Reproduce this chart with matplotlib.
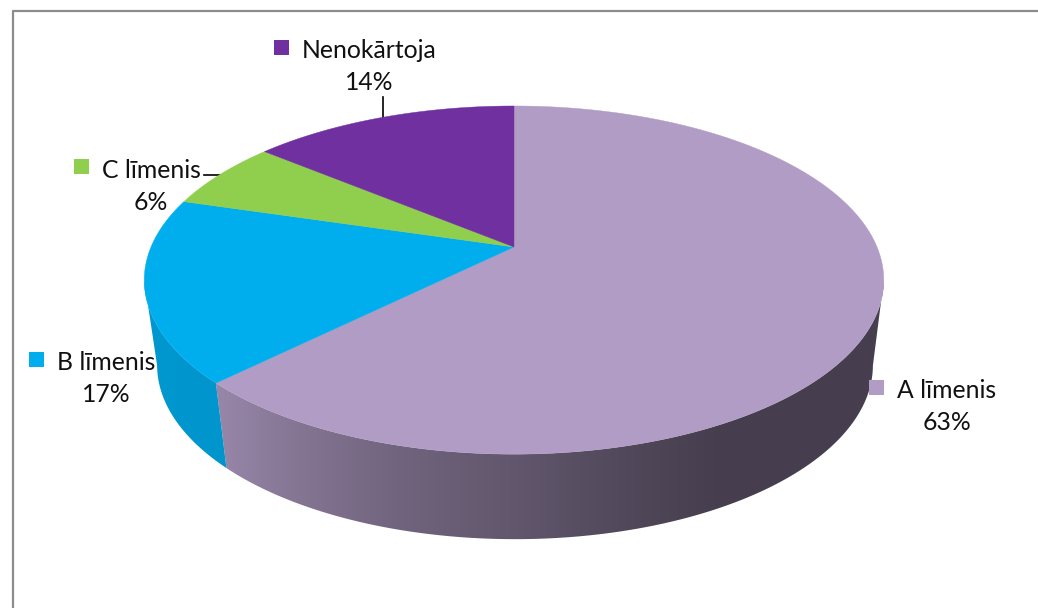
import numpy as np
import matplotlib
matplotlib.use("Agg")
import matplotlib.pyplot as plt
from matplotlib.colors import to_rgb
from matplotlib.patches import Polygon, Rectangle

plt.rcParams['font.family'] = ['Lato', 'DejaVu Sans']

labels = ["A līmenis", "B līmenis", "C līmenis", "Nenokārtoja"]
values = [62.6, 17.0, 6.4, 14.0]
colors = ["#B09CC4", "#00AEEE", "#90CE4E", "#7030A0"]

# legend marker top-left corner, label centre and percent centre for each slice
marker_xy = [(869, 380), (29, 352), (74, 159), (274, 40)]
label_xy = [(947, 391), (106, 363), (151, 170), (369, 51)]

# perspective of the pie, found by measuring the top ellipse
apex_x, apex_y = 514, 247
persp = 0.19
scale_x, scale_y = 363, 167.8
depth = 85
shrink = 0.968

# darkening of the side wall along x
shade_x = [140, 218, 300, 400, 520, 640, 720, 890]
shade_v = [0.87, 0.86, 0.75, 0.64, 0.55, 0.45, 0.40, 0.40]


def top_edge(theta):
    # theta is clockwise from the back of the pie
    u, v = np.sin(theta), np.cos(theta)
    w = 1 + persp * v
    return apex_x + scale_x * u / w, apex_y - scale_y * v / w


def bottom_edge(theta):
    x, y = top_edge(theta)
    return apex_x + 1 + shrink * (x - apex_x), y + depth


fig = plt.figure(figsize=(10.38, 6.08), dpi=100)
ax = fig.add_axes([0, 0, 1, 1])

# chart frame, cut off at the right and the bottom
ax.plot([12.5, 12.5, 1038], [608, 10.5, 10.5], color="#8C8C8C", lw=1.6, zorder=1)

# leader lines
ax.plot([204, 220], [175, 175], color="black", lw=1.2, zorder=2)
ax.plot([383, 383], [97, 119], color="black", lw=1.2, zorder=2)

for name, val, (x, y) in zip(labels, values, label_xy):
    ax.text(x, y, name, ha="center", va="center", fontsize=17.8, color="#111111", zorder=3)
    ax.text(x, y + 32, f"{val:.0f}%", ha="center", va="center", fontsize=17.8, color="#111111", zorder=3)

edges = np.cumsum([0] + values) / sum(values) * 2 * np.pi

# side walls first, only the front part of the rim can be seen
xs = np.arange(140, 891)
shade = np.interp(xs, shade_x, shade_v)
for i, col in enumerate(colors):
    t = np.linspace(edges[i], edges[i + 1], 400)
    t = t[np.cos(t) < -0.19]
    if len(t) < 2:
        continue
    tx, ty = top_edge(t)
    bx, by = bottom_edge(t)
    wall = Polygon(np.column_stack([np.r_[tx, bx[::-1]], np.r_[ty, by[::-1]]]), closed=True,
                   facecolor="none", edgecolor="none", transform=ax.transData)
    ax.add_patch(wall)
    grad = shade[np.newaxis, :, np.newaxis] * np.array(to_rgb(col))
    im = ax.imshow(grad, extent=(140, 890, 560, 100), aspect="auto", interpolation="bilinear", zorder=4)
    im.set_clip_path(wall)

for i, col in enumerate(colors):
    t = np.linspace(edges[i], edges[i + 1], 300)
    tx, ty = top_edge(t)
    pts = np.column_stack([np.r_[apex_x, tx], np.r_[apex_y, ty]])
    ax.add_patch(Polygon(pts, closed=True, facecolor=col, edgecolor=col, lw=0.3, zorder=5))

# legend keys sit on top of the pie
for col, (x, y) in zip(colors, marker_xy):
    ax.add_patch(Rectangle((x, y), 15, 15, facecolor=col, edgecolor="none", zorder=6))

ax.set_xlim(0, 1038)
ax.set_ylim(608, 0)
ax.axis("off")

fig.savefig("out.png", dpi=100, facecolor="white")
